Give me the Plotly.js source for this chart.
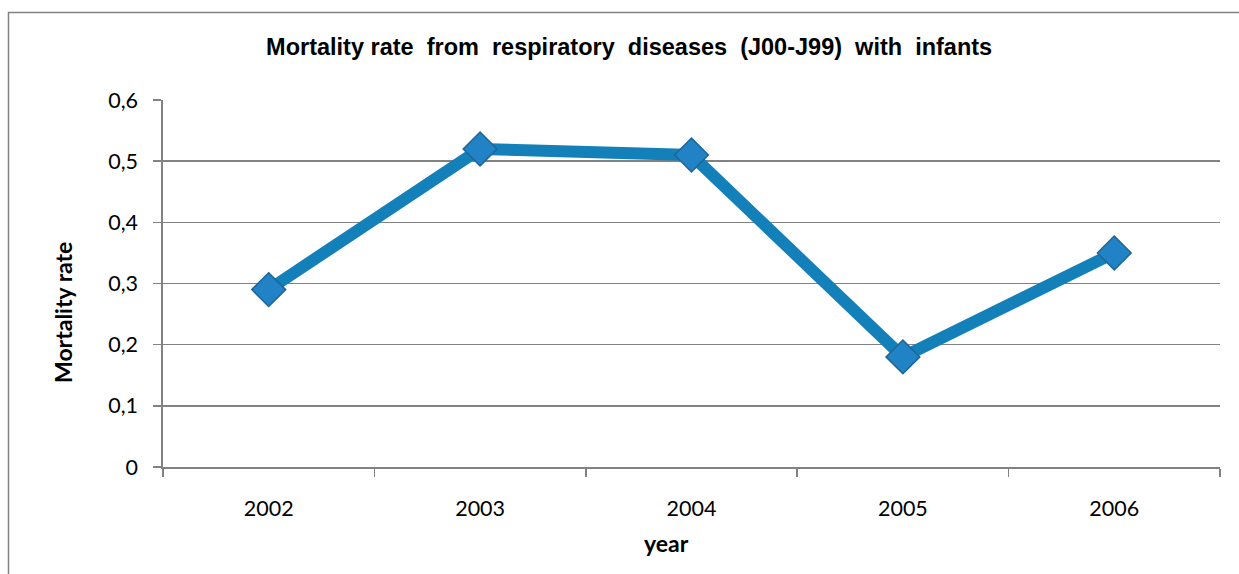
<!DOCTYPE html>
<html>
<head>
<meta charset="utf-8">
<script src="https://cdn.plot.ly/plotly-3.0.1.min.js"></script>
<style>
  html, body { margin: 0; padding: 0; background: #ffffff; }
  #chart { width: 1239px; height: 574px; }
</style>
</head>
<body>
<div id="chart"></div>
<script>
// Infant mortality rate from respiratory diseases, by year
const years = ['2002', '2003', '2004', '2005', '2006'];
const mortalityRate = [0.29, 0.52, 0.51, 0.18, 0.35];
const yTicks = [0, 0.1, 0.2, 0.3, 0.4, 0.5, 0.6];
const yTickText = ['0', '0,1', '0,2', '0,3', '0,4', '0,5', '0,6'];

const gridGray = '#828282';
const lineBlue = '#1380ba';

const trace = {
  type: 'scatter',
  mode: 'lines+markers',
  x: years,
  y: mortalityRate,
  line: { color: lineBlue, width: 12 },
  marker: {
    symbol: 'diamond',
    size: 26,
    color: '#2182c6',
    line: { color: '#1d6698', width: 1.5 }
  },
  hoverinfo: 'x+y'
};

const layout = {
  width: 1239,
  height: 574,
  margin: { l: 163, r: 19, t: 100, b: 107 },
  paper_bgcolor: '#ffffff',
  plot_bgcolor: '#ffffff',
  separators: ', ',
  showlegend: false,
  font: { family: 'Lato, "Open Sans", sans-serif', size: 21, color: '#000000' },
  title: {
    text: 'Mortality rate  from  respiratory  diseases  (J00-J99)  with  infants',
    font: { family: '"Liberation Sans", Arial, sans-serif', size: 23.5, color: '#000000', weight: 'bold' },
    xref: 'paper', x: 0.441, xanchor: 'center',
    yref: 'container', y: 1 - 47 / 574, yanchor: 'middle'
  },
  xaxis: {
    type: 'category',
    categoryorder: 'array',
    categoryarray: years,
    range: [-0.5, 4.5],
    showgrid: false,
    zeroline: false,
    showline: true,
    linecolor: gridGray,
    linewidth: 1.6,
    ticks: 'outside',
    tickson: 'boundaries',
    ticklen: 8,
    tickwidth: 1.6,
    tickcolor: gridGray,
    ticklabelstandoff: 22,
    tickfont: { size: 21.5 },
    fixedrange: true
  },
  yaxis: {
    range: [0, 0.6],
    tickvals: yTicks,
    ticktext: yTickText,
    showgrid: true,
    gridcolor: gridGray,
    gridwidth: 1.6,
    zeroline: false,
    showline: true,
    linecolor: gridGray,
    linewidth: 1.6,
    ticks: 'outside',
    ticklen: 8,
    tickwidth: 1.6,
    tickcolor: gridGray,
    ticklabelstandoff: 11,
    tickfont: { size: 21.5 },
    fixedrange: true
  },
  annotations: [
    {
      text: '<b>Mortality rate</b>',
      xref: 'paper', yref: 'paper',
      x: (63 - 163) / 1057, y: (467 - 313) / 367,
      xanchor: 'center', yanchor: 'middle',
      textangle: -90, showarrow: false,
      font: { size: 23, color: '#000000' }
    },
    {
      text: '<b>year</b>',
      xref: 'paper', yref: 'paper',
      x: (666 - 163) / 1057, y: (467 - 543) / 367,
      xanchor: 'center', yanchor: 'middle',
      showarrow: false,
      font: { size: 23, color: '#000000' }
    }
  ],
  shapes: [
    {
      type: 'rect', xref: 'paper', yref: 'paper', layer: 'below',
      x0: (8.5 - 163) / 1057, x1: (1245 - 163) / 1057,
      y0: (467 - 580) / 367, y1: (467 - 12.5) / 367,
      line: { color: gridGray, width: 1.5 }, fillcolor: 'rgba(0,0,0,0)'
    }
  ]
};

Plotly.newPlot('chart', [trace], layout, { displayModeBar: false, staticPlot: true });
</script>
</body>
</html>
